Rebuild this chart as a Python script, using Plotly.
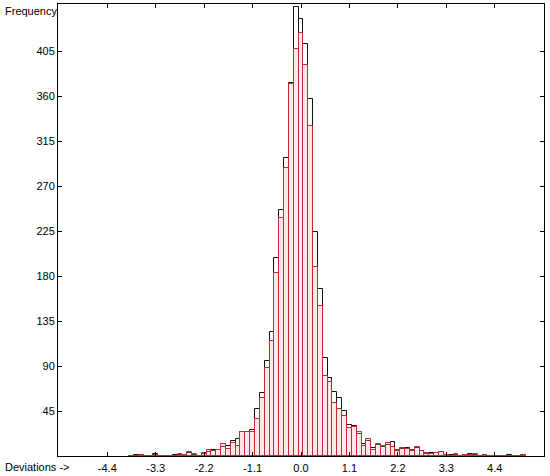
import numpy as np
import plotly.graph_objects as go

# Histogram bins: width 0.11, first bin centred at -3.85 (k = -35 .. 46)
bin_width = 0.11
first_center = -3.85

black_counts = [
    0, 1, 1, 0, 0, 2, 0, 0, 0, 1,      # k -35 .. -26
    1, 0, 3, 1, 0, 2, 4, 6, 6, 9,      # k -25 .. -16
    10, 15, 17, 24, 24, 26, 47, 63, 95, 124,   # k -15 .. -6
    198, 246, 298, 373, 449, 437, 412, 357, 224, 167,  # k -5 .. 4
    98, 78, 64, 58, 45, 31, 30, 22, 12, 15,   # k 5 .. 14
    8, 11, 9, 11, 14, 5, 7, 8, 5, 8,   # k 15 .. 24
    5, 2, 3, 3, 4, 1, 1, 1, 0, 1,      # k 25 .. 34
    2, 1, 0, 1, 0, 0, 0, 0, 1, 0,      # k 35 .. 44
    0, 1,                              # k 45 .. 46
]
red_counts = [
    0, 0, 1, 0, 0, 1, 0, 0, 0, 0,
    2, 1, 4, 2, 0, 3, 6, 5, 6, 12,
    7, 13, 10, 24, 24, 24, 37, 58, 88, 115,
    183, 238, 288, 372, 407, 423, 391, 330, 189, 150,
    80, 74, 53, 47, 40, 28, 29, 24, 10, 17,
    6, 12, 10, 13, 9, 6, 8, 7, 6, 9,
    5, 3, 2, 3, 4, 1, 0, 2, 0, 1,
    1, 2, 0, 1, 0, 0, 0, 0, 0, 0,
    0, 1,
]

x_tick_vals = [-4.4, -3.3, -2.2, -1.1, 0.0, 1.1, 2.2, 3.3, 4.4]
x_tick_text = ["-4.4", "-3.3", "-2.2", "-1.1", "0.0", "1.1", "2.2", "3.3", "4.4"]
y_tick_vals = [45, 90, 135, 180, 225, 270, 315, 360, 405]

centers = first_center + bin_width * np.arange(len(black_counts))

fig = go.Figure()
fig.add_trace(go.Bar(
    x=centers, y=black_counts, width=bin_width,
    marker=dict(color="rgba(255,255,255,0)", line=dict(color="#111111", width=1)),
    showlegend=False,
))
fig.add_trace(go.Bar(
    x=centers, y=red_counts, width=bin_width,
    marker=dict(color="rgba(255,175,195,0.30)", line=dict(color="#c82a2a", width=1)),
    showlegend=False,
))

font_family = "Liberation Sans, Arial, sans-serif"
fig.update_layout(
    width=550, height=476,
    margin=dict(l=58, r=6, t=4, b=20, autoexpand=False),
    paper_bgcolor="white", plot_bgcolor="white",
    barmode="overlay", bargap=0,
    font=dict(family=font_family, size=11, color="#000000"),
    xaxis=dict(
        range=[-5.52, 5.52], tickvals=x_tick_vals, ticktext=x_tick_text,
        ticks="inside", ticklen=4, tickcolor="#000", mirror="ticks",
        showline=True, linecolor="#000", linewidth=1,
        showgrid=False, zeroline=False, fixedrange=True, automargin=False,
        tickfont=dict(size=11), ticklabelstandoff=2,
    ),
    yaxis=dict(
        range=[0, 452], tickvals=y_tick_vals,
        ticks="inside", ticklen=4, tickcolor="#000", mirror="ticks",
        showline=True, linecolor="#000", linewidth=1,
        showgrid=False, zeroline=False, fixedrange=True, automargin=False,
        tickfont=dict(size=11),
    ),
    annotations=[
        dict(text="Frequency", x=3, y=11, xref="paper", yref="paper",
             showarrow=False, xanchor="left", yanchor="middle"),
        dict(text="Deviations ->", x=3, y=467, xref="paper", yref="paper",
             showarrow=False, xanchor="left", yanchor="middle"),
    ],
)

# convert pixel annotation positions into paper coordinates
W, H = 550, 476
l, r, t, b = 58, 6, 4, 20
pw, ph = W - l - r, H - t - b
for ann in fig.layout.annotations:
    px, py = ann.x, ann.y
    ann.x = (px - l) / pw
    ann.y = 1 - (py - t) / ph

fig.write_html(
    "out.html",
    config={"displayModeBar": False},
    post_script="document.body.style.margin='0';document.body.style.overflow='hidden';",
)
